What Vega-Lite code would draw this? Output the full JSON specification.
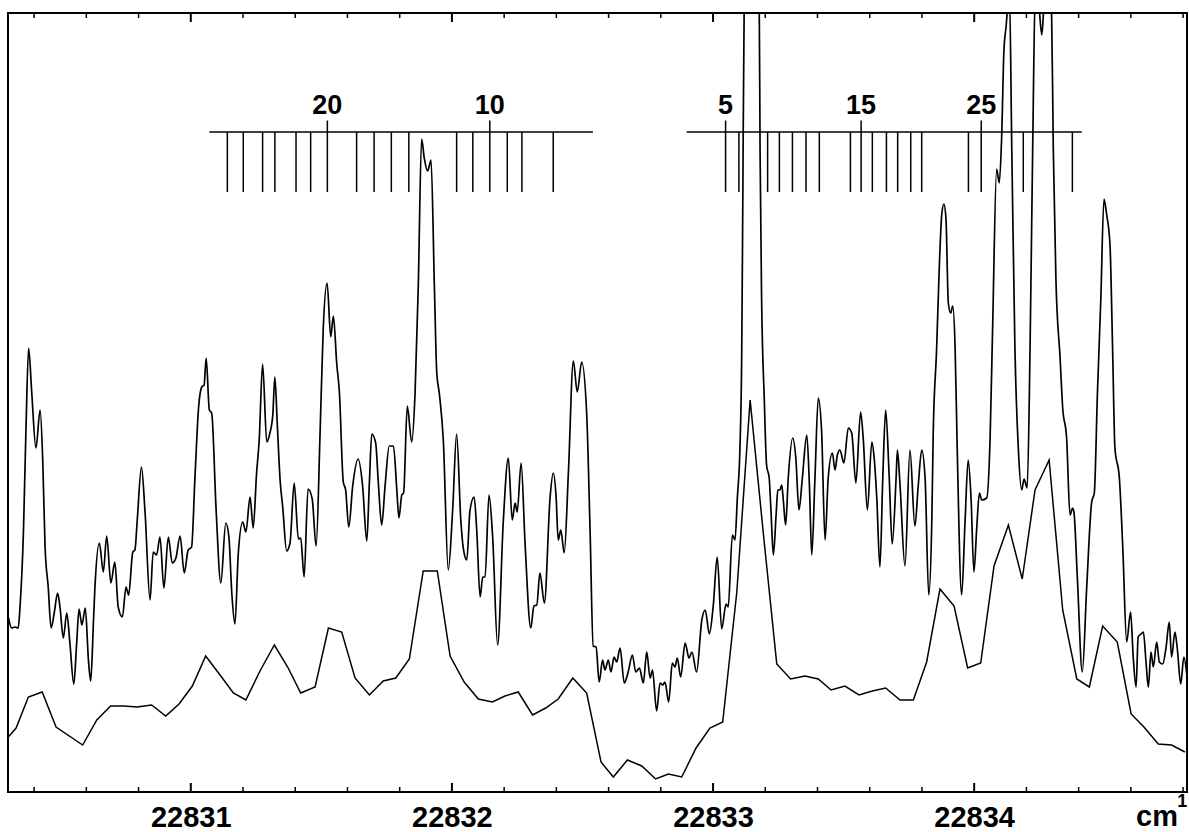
{
  "$schema": "https://vega.github.io/schema/vega-lite/v6.json",
  "width": 1179,
  "height": 779,
  "autosize": {"type": "none"},
  "padding": {"left": 8, "top": 13, "right": 2, "bottom": 40},
  "background": "white",
  "config": {
    "view": {"stroke": "black", "strokeWidth": 2},
    "axis": {"grid": false}
  },
  "datasets": {
    "minor": [{"w":22830.4},{"w":22830.6},{"w":22830.8},{"w":22831.2},{"w":22831.4},{"w":22831.6},{"w":22831.8},{"w":22832.2},{"w":22832.4},{"w":22832.6},{"w":22832.8},{"w":22833.2},{"w":22833.4},{"w":22833.6},{"w":22833.8},{"w":22834.2},{"w":22834.4},{"w":22834.6},{"w":22834.8}],
    "major": [{"w":22831},{"w":22832},{"w":22833},{"w":22834}],
    "high": [
      {"w":22830.301,"I":175},{"w":22830.314,"I":164},{"w":22830.327,"I":165},{"w":22830.339,"I":164},{"w":22830.346,"I":185},{"w":22830.359,"I":259},{"w":22830.369,"I":365},{"w":22830.379,"I":444},{"w":22830.391,"I":399},{"w":22830.407,"I":344},{"w":22830.423,"I":382},{"w":22830.433,"I":332},{"w":22830.442,"I":245},{"w":22830.454,"I":205},{"w":22830.465,"I":164},{"w":22830.477,"I":179},{"w":22830.490,"I":199},{"w":22830.499,"I":185},{"w":22830.512,"I":154},{"w":22830.525,"I":179},{"w":22830.537,"I":149},{"w":22830.552,"I":108},{"w":22830.563,"I":149},{"w":22830.572,"I":183},{"w":22830.583,"I":167},{"w":22830.596,"I":184},{"w":22830.608,"I":132},{"w":22830.617,"I":111},{"w":22830.627,"I":169},{"w":22830.633,"I":205},{"w":22830.650,"I":249},{"w":22830.665,"I":220},{"w":22830.678,"I":256},{"w":22830.694,"I":209},{"w":22830.709,"I":230},{"w":22830.722,"I":185},{"w":22830.738,"I":175},{"w":22830.752,"I":205},{"w":22830.762,"I":197},{"w":22830.778,"I":240},{"w":22830.786,"I":242},{"w":22830.795,"I":272},{"w":22830.811,"I":325},{"w":22830.825,"I":279},{"w":22830.844,"I":192},{"w":22830.856,"I":240},{"w":22830.869,"I":237},{"w":22830.882,"I":255},{"w":22830.897,"I":204},{"w":22830.914,"I":255},{"w":22830.929,"I":229},{"w":22830.943,"I":234},{"w":22830.959,"I":256},{"w":22830.975,"I":219},{"w":22830.990,"I":242},{"w":22831.003,"I":245},{"w":22831.016,"I":315},{"w":22831.030,"I":385},{"w":22831.042,"I":405},{"w":22831.051,"I":407},{"w":22831.059,"I":434},{"w":22831.071,"I":382},{"w":22831.080,"I":379},{"w":22831.097,"I":282},{"w":22831.115,"I":209},{"w":22831.134,"I":269},{"w":22831.146,"I":255},{"w":22831.157,"I":199},{"w":22831.169,"I":168},{"w":22831.182,"I":239},{"w":22831.199,"I":270},{"w":22831.211,"I":260},{"w":22831.227,"I":295},{"w":22831.239,"I":264},{"w":22831.252,"I":319},{"w":22831.262,"I":352},{"w":22831.275,"I":428},{"w":22831.291,"I":350},{"w":22831.303,"I":359},{"w":22831.314,"I":377},{"w":22831.322,"I":415},{"w":22831.331,"I":369},{"w":22831.342,"I":312},{"w":22831.352,"I":285},{"w":22831.367,"I":241},{"w":22831.380,"I":249},{"w":22831.396,"I":309},{"w":22831.412,"I":253},{"w":22831.421,"I":254},{"w":22831.434,"I":215},{"w":22831.449,"I":303},{"w":22831.465,"I":293},{"w":22831.480,"I":246},{"w":22831.495,"I":358},{"w":22831.507,"I":462},{"w":22831.522,"I":509},{"w":22831.536,"I":455},{"w":22831.546,"I":476},{"w":22831.559,"I":428},{"w":22831.569,"I":400},{"w":22831.584,"I":310},{"w":22831.593,"I":302},{"w":22831.605,"I":265},{"w":22831.620,"I":306},{"w":22831.641,"I":333},{"w":22831.658,"I":306},{"w":22831.674,"I":251},{"w":22831.684,"I":310},{"w":22831.693,"I":358},{"w":22831.708,"I":349},{"w":22831.718,"I":310},{"w":22831.731,"I":267},{"w":22831.744,"I":306},{"w":22831.760,"I":346},{"w":22831.776,"I":346},{"w":22831.789,"I":302},{"w":22831.797,"I":274},{"w":22831.808,"I":297},{"w":22831.815,"I":299},{"w":22831.829,"I":386},{"w":22831.846,"I":350},{"w":22831.859,"I":400},{"w":22831.871,"I":504},{"w":22831.884,"I":653},{"w":22831.894,"I":634},{"w":22831.907,"I":621},{"w":22831.920,"I":632},{"w":22831.933,"I":504},{"w":22831.942,"I":419},{"w":22831.952,"I":398},{"w":22831.967,"I":352},{"w":22831.986,"I":222},{"w":22832.003,"I":283},{"w":22832.018,"I":358},{"w":22832.034,"I":272},{"w":22832.044,"I":243},{"w":22832.057,"I":232},{"w":22832.069,"I":281},{"w":22832.085,"I":295},{"w":22832.095,"I":262},{"w":22832.108,"I":195},{"w":22832.118,"I":215},{"w":22832.127,"I":215},{"w":22832.142,"I":297},{"w":22832.156,"I":255},{"w":22832.175,"I":147},{"w":22832.197,"I":272},{"w":22832.216,"I":334},{"w":22832.231,"I":272},{"w":22832.242,"I":289},{"w":22832.250,"I":280},{"w":22832.265,"I":329},{"w":22832.280,"I":249},{"w":22832.302,"I":164},{"w":22832.314,"I":186},{"w":22832.325,"I":187},{"w":22832.337,"I":219},{"w":22832.354,"I":189},{"w":22832.376,"I":295},{"w":22832.388,"I":319},{"w":22832.399,"I":295},{"w":22832.407,"I":252},{"w":22832.417,"I":262},{"w":22832.430,"I":239},{"w":22832.446,"I":319},{"w":22832.465,"I":431},{"w":22832.480,"I":400},{"w":22832.497,"I":430},{"w":22832.516,"I":379},{"w":22832.529,"I":262},{"w":22832.541,"I":146},{"w":22832.552,"I":145},{"w":22832.564,"I":110},{"w":22832.577,"I":132},{"w":22832.586,"I":122},{"w":22832.599,"I":132},{"w":22832.609,"I":120},{"w":22832.621,"I":135},{"w":22832.631,"I":130},{"w":22832.644,"I":144},{"w":22832.660,"I":109},{"w":22832.675,"I":120},{"w":22832.691,"I":137},{"w":22832.704,"I":120},{"w":22832.718,"I":124},{"w":22832.733,"I":109},{"w":22832.746,"I":140},{"w":22832.759,"I":114},{"w":22832.768,"I":122},{"w":22832.784,"I":81},{"w":22832.797,"I":109},{"w":22832.807,"I":107},{"w":22832.816,"I":110},{"w":22832.830,"I":90},{"w":22832.844,"I":129},{"w":22832.854,"I":125},{"w":22832.863,"I":134},{"w":22832.876,"I":115},{"w":22832.893,"I":149},{"w":22832.908,"I":134},{"w":22832.919,"I":140},{"w":22832.937,"I":120},{"w":22832.957,"I":172},{"w":22832.970,"I":182},{"w":22832.986,"I":158},{"w":22833.001,"I":187},{"w":22833.016,"I":235},{"w":22833.033,"I":163},{"w":22833.050,"I":188},{"w":22833.058,"I":185},{"w":22833.074,"I":257},{"w":22833.084,"I":252},{"w":22833.093,"I":294},{"w":22833.103,"I":344},{"w":22833.110,"I":444},{"w":22833.114,"I":593},{"w":22833.119,"I":779},{"w":22833.145,"I":860},{"w":22833.177,"I":779},{"w":22833.180,"I":643},{"w":22833.186,"I":493},{"w":22833.196,"I":394},{"w":22833.205,"I":327},{"w":22833.215,"I":314},{"w":22833.222,"I":280},{"w":22833.231,"I":237},{"w":22833.241,"I":275},{"w":22833.248,"I":302},{"w":22833.256,"I":302},{"w":22833.263,"I":307},{"w":22833.269,"I":292},{"w":22833.278,"I":267},{"w":22833.288,"I":314},{"w":22833.305,"I":354},{"w":22833.317,"I":334},{"w":22833.329,"I":282},{"w":22833.342,"I":314},{"w":22833.359,"I":357},{"w":22833.369,"I":307},{"w":22833.378,"I":237},{"w":22833.390,"I":312},{"w":22833.403,"I":394},{"w":22833.416,"I":359},{"w":22833.429,"I":252},{"w":22833.441,"I":314},{"w":22833.457,"I":339},{"w":22833.467,"I":322},{"w":22833.476,"I":337},{"w":22833.486,"I":342},{"w":22833.501,"I":329},{"w":22833.518,"I":364},{"w":22833.531,"I":359},{"w":22833.547,"I":309},{"w":22833.565,"I":380},{"w":22833.575,"I":354},{"w":22833.591,"I":282},{"w":22833.608,"I":350},{"w":22833.617,"I":334},{"w":22833.627,"I":294},{"w":22833.639,"I":225},{"w":22833.650,"I":314},{"w":22833.661,"I":382},{"w":22833.674,"I":319},{"w":22833.686,"I":248},{"w":22833.701,"I":314},{"w":22833.706,"I":342},{"w":22833.716,"I":307},{"w":22833.735,"I":226},{"w":22833.754,"I":342},{"w":22833.773,"I":266},{"w":22833.786,"I":307},{"w":22833.799,"I":342},{"w":22833.812,"I":314},{"w":22833.826,"I":197},{"w":22833.838,"I":275},{"w":22833.843,"I":357},{"w":22833.856,"I":442},{"w":22833.866,"I":522},{"w":22833.876,"I":578},{"w":22833.884,"I":588},{"w":22833.892,"I":573},{"w":22833.901,"I":489},{"w":22833.910,"I":479},{"w":22833.918,"I":486},{"w":22833.927,"I":444},{"w":22833.935,"I":344},{"w":22833.952,"I":197},{"w":22833.965,"I":270},{"w":22833.977,"I":332},{"w":22833.988,"I":294},{"w":22833.999,"I":220},{"w":22834.010,"I":265},{"w":22834.020,"I":299},{"w":22834.029,"I":292},{"w":22834.048,"I":294},{"w":22834.061,"I":354},{"w":22834.071,"I":469},{"w":22834.086,"I":623},{"w":22834.096,"I":609},{"w":22834.105,"I":653},{"w":22834.114,"I":742},{"w":22834.122,"I":765},{"w":22834.135,"I":800},{"w":22834.144,"I":643},{"w":22834.156,"I":444},{"w":22834.169,"I":344},{"w":22834.182,"I":302},{"w":22834.191,"I":313},{"w":22834.203,"I":304},{"w":22834.214,"I":444},{"w":22834.224,"I":643},{"w":22834.235,"I":812},{"w":22834.248,"I":787},{"w":22834.259,"I":757},{"w":22834.267,"I":787},{"w":22834.283,"I":822},{"w":22834.296,"I":787},{"w":22834.303,"I":643},{"w":22834.313,"I":513},{"w":22834.329,"I":434},{"w":22834.339,"I":384},{"w":22834.354,"I":354},{"w":22834.367,"I":277},{"w":22834.377,"I":284},{"w":22834.382,"I":280},{"w":22834.395,"I":215},{"w":22834.414,"I":120},{"w":22834.431,"I":205},{"w":22834.450,"I":290},{"w":22834.460,"I":299},{"w":22834.472,"I":399},{"w":22834.485,"I":493},{"w":22834.497,"I":593},{"w":22834.507,"I":578},{"w":22834.520,"I":548},{"w":22834.530,"I":444},{"w":22834.539,"I":344},{"w":22834.556,"I":314},{"w":22834.569,"I":245},{"w":22834.584,"I":150},{"w":22834.599,"I":180},{"w":22834.609,"I":135},{"w":22834.620,"I":105},{"w":22834.628,"I":155},{"w":22834.639,"I":158},{"w":22834.648,"I":160},{"w":22834.658,"I":130},{"w":22834.667,"I":105},{"w":22834.677,"I":140},{"w":22834.686,"I":125},{"w":22834.699,"I":150},{"w":22834.709,"I":130},{"w":22834.722,"I":128},{"w":22834.735,"I":145},{"w":22834.747,"I":170},{"w":22834.756,"I":135},{"w":22834.769,"I":160},{"w":22834.778,"I":143},{"w":22834.791,"I":108},{"w":22834.803,"I":135},{"w":22834.814,"I":118}
    ],
    "low": [
      {"w":22830.301,"I":55},{"w":22830.331,"I":64},{"w":22830.378,"I":95},{"w":22830.431,"I":100},{"w":22830.484,"I":65},{"w":22830.586,"I":47},{"w":22830.640,"I":72},{"w":22830.693,"I":86},{"w":22830.744,"I":86},{"w":22830.795,"I":85},{"w":22830.850,"I":87},{"w":22830.904,"I":76},{"w":22830.955,"I":88},{"w":22831.006,"I":106},{"w":22831.057,"I":136},{"w":22831.112,"I":117},{"w":22831.163,"I":99},{"w":22831.211,"I":92},{"w":22831.265,"I":121},{"w":22831.320,"I":147},{"w":22831.371,"I":125},{"w":22831.421,"I":99},{"w":22831.476,"I":105},{"w":22831.527,"I":164},{"w":22831.578,"I":160},{"w":22831.629,"I":114},{"w":22831.684,"I":97},{"w":22831.737,"I":111},{"w":22831.785,"I":114},{"w":22831.837,"I":133},{"w":22831.890,"I":221},{"w":22831.944,"I":221},{"w":22831.993,"I":136},{"w":22832.047,"I":110},{"w":22832.101,"I":93},{"w":22832.155,"I":90},{"w":22832.203,"I":96},{"w":22832.254,"I":100},{"w":22832.309,"I":77},{"w":22832.359,"I":84},{"w":22832.407,"I":93},{"w":22832.463,"I":114},{"w":22832.516,"I":99},{"w":22832.571,"I":30},{"w":22832.618,"I":15},{"w":22832.672,"I":32},{"w":22832.727,"I":26},{"w":22832.780,"I":13},{"w":22832.829,"I":18},{"w":22832.880,"I":15},{"w":22832.935,"I":44},{"w":22832.988,"I":64},{"w":22833.037,"I":70},{"w":22833.091,"I":200},{"w":22833.142,"I":392},{"w":22833.192,"I":260},{"w":22833.244,"I":128},{"w":22833.297,"I":113},{"w":22833.352,"I":116},{"w":22833.403,"I":113},{"w":22833.452,"I":102},{"w":22833.505,"I":106},{"w":22833.559,"I":97},{"w":22833.610,"I":101},{"w":22833.661,"I":104},{"w":22833.716,"I":92},{"w":22833.767,"I":92},{"w":22833.818,"I":130},{"w":22833.869,"I":203},{"w":22833.923,"I":186},{"w":22833.975,"I":124},{"w":22834.025,"I":129},{"w":22834.076,"I":226},{"w":22834.131,"I":267},{"w":22834.184,"I":213},{"w":22834.233,"I":302},{"w":22834.287,"I":332},{"w":22834.339,"I":182},{"w":22834.393,"I":113},{"w":22834.441,"I":105},{"w":22834.492,"I":166},{"w":22834.548,"I":150},{"w":22834.601,"I":78},{"w":22834.650,"I":65},{"w":22834.705,"I":48},{"w":22834.756,"I":47},{"w":22834.807,"I":40}
    ],
    "comb": [
      {"w":22831.140},{"w":22831.201},{"w":22831.275},{"w":22831.322},{"w":22831.403},{"w":22831.459},{"w":22831.523},{"w":22831.635},{"w":22831.702},{"w":22831.768},{"w":22831.835},{"w":22832.018},{"w":22832.080},{"w":22832.145},{"w":22832.212},{"w":22832.268},{"w":22832.388},
      {"w":22833.048},{"w":22833.099},{"w":22833.209},{"w":22833.254},{"w":22833.304},{"w":22833.356},{"w":22833.407},{"w":22833.526},{"w":22833.567},{"w":22833.610},{"w":22833.664},{"w":22833.707},{"w":22833.757},{"w":22833.799},{"w":22833.978},{"w":22834.027},{"w":22834.188},{"w":22834.376}
    ],
    "combbar": [{"w1":22831.071,"w2":22832.540},{"w1":22832.899,"w2":22834.412}],
    "labels": [{"w":22831.523,"J":"20"},{"w":22832.145,"J":"10"},{"w":22833.048,"J":"5"},{"w":22833.567,"J":"15"},{"w":22834.027,"J":"25"}],
    "unit": [{"w":22834.700,"t":"cm"}],
    "unitexp": [{"w":22834.797,"t":"1"}]
  },
  "layer": [
    {
      "data": {"name": "major"},
      "mark": {"type": "rule", "stroke": "black", "strokeWidth": 2},
      "encoding": {
        "x": {"field": "w", "type": "quantitative", "scale": {"domain": [22830.3, 22834.815], "nice": false, "zero": false},
          "axis": {"values": [22831, 22832, 22833, 22834], "orient": "bottom", "title": null, "ticks": false, "tickSize": 0, "domain": false, "grid": false,
            "labelFont": "Liberation Sans", "labelFontWeight": "bold", "labelFontSize": 29, "labelColor": "black",
            "labelBaseline": "alphabetic", "labelPadding": 34, "format": "d", "labelFlush": false, "labelOverlap": false}},
        "y": {"datum": 0, "type": "quantitative", "scale": {"domain": [0, 779], "nice": false, "zero": false}, "axis": null},
        "y2": {"datum": 9}
      }
    },
    {
      "data": {"name": "major"},
      "mark": {"type": "rule", "stroke": "black", "strokeWidth": 2},
      "encoding": {
        "x": {"field": "w", "type": "quantitative"},
        "y": {"datum": 779, "type": "quantitative"},
        "y2": {"datum": 770}
      }
    },
    {
      "data": {"name": "minor"},
      "mark": {"type": "rule", "stroke": "black", "strokeWidth": 1.5},
      "encoding": {
        "x": {"field": "w", "type": "quantitative"},
        "y": {"datum": 0, "type": "quantitative"},
        "y2": {"datum": 5}
      }
    },
    {
      "data": {"name": "minor"},
      "mark": {"type": "rule", "stroke": "black", "strokeWidth": 1.5},
      "encoding": {
        "x": {"field": "w", "type": "quantitative"},
        "y": {"datum": 779, "type": "quantitative"},
        "y2": {"datum": 774}
      }
    },
    {
      "data": {"name": "low"},
      "mark": {"type": "line", "stroke": "black", "strokeWidth": 1.5, "clip": true},
      "encoding": {
        "x": {"field": "w", "type": "quantitative"},
        "y": {"field": "I", "type": "quantitative"}
      }
    },
    {
      "data": {"name": "high"},
      "mark": {"type": "line", "stroke": "black", "strokeWidth": 1.7, "clip": true, "interpolate": "monotone"},
      "encoding": {
        "x": {"field": "w", "type": "quantitative"},
        "y": {"field": "I", "type": "quantitative"}
      }
    },
    {
      "data": {"name": "comb"},
      "mark": {"type": "rule", "stroke": "black", "strokeWidth": 1.5},
      "encoding": {
        "x": {"field": "w", "type": "quantitative"},
        "y": {"datum": 600, "type": "quantitative"},
        "y2": {"datum": 660}
      }
    },
    {
      "data": {"name": "labels"},
      "mark": {"type": "rule", "stroke": "black", "strokeWidth": 1.5},
      "encoding": {
        "x": {"field": "w", "type": "quantitative"},
        "y": {"datum": 660, "type": "quantitative"},
        "y2": {"datum": 671.5}
      }
    },
    {
      "data": {"name": "combbar"},
      "mark": {"type": "rule", "stroke": "black", "strokeWidth": 1.5},
      "encoding": {
        "x": {"field": "w1", "type": "quantitative"},
        "x2": {"field": "w2"},
        "y": {"datum": 660, "type": "quantitative"}
      }
    },
    {
      "data": {"name": "labels"},
      "mark": {"type": "text", "font": "Liberation Sans", "fontWeight": "bold", "fontSize": 27, "align": "center", "baseline": "alphabetic", "color": "black"},
      "encoding": {
        "x": {"field": "w", "type": "quantitative"},
        "y": {"datum": 678.5, "type": "quantitative"},
        "text": {"field": "J"}
      }
    },
    {
      "data": {"name": "unit"},
      "mark": {"type": "text", "font": "Liberation Sans", "fontWeight": "bold", "fontSize": 29, "align": "center", "baseline": "alphabetic", "color": "black"},
      "encoding": {
        "x": {"field": "w", "type": "quantitative"},
        "y": {"datum": -34, "type": "quantitative"},
        "text": {"field": "t"}
      }
    },
    {
      "data": {"name": "unitexp"},
      "mark": {"type": "text", "font": "Liberation Sans", "fontWeight": "bold", "fontSize": 18, "align": "center", "baseline": "alphabetic", "color": "black"},
      "encoding": {
        "x": {"field": "w", "type": "quantitative"},
        "y": {"datum": -15, "type": "quantitative"},
        "text": {"field": "t"}
      }
    }
  ]
}
